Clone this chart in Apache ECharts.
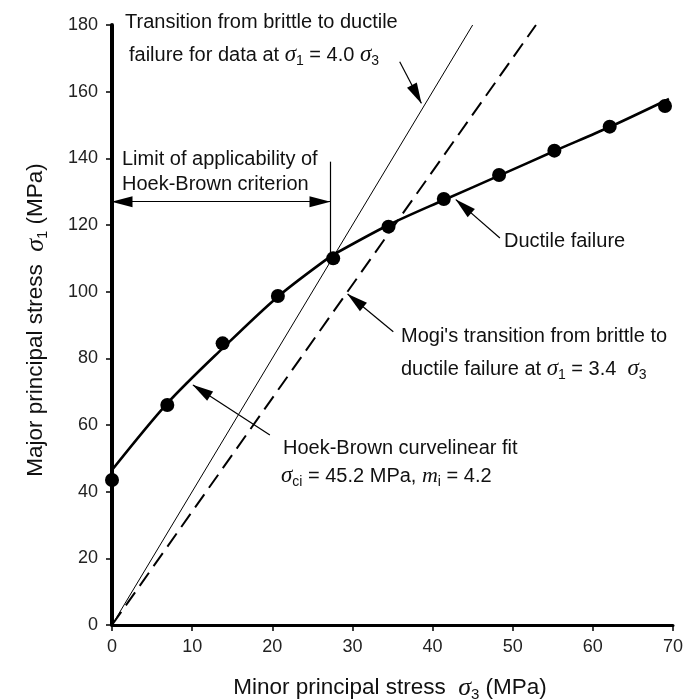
<!DOCTYPE html>
<html>
<head>
<meta charset="utf-8">
<script src="https://cdn.jsdelivr.net/npm/echarts@6/dist/echarts.min.js"></script>
<style>html,body{margin:0;padding:0;background:#fff}#c{width:688px;height:700px}</style>
</head>
<body>
<div id="c"></div>
<script>
// ---- data ----
const sigma3Data = [0, 6.9, 13.8, 20.7, 27.6, 34.5, 41.4, 48.3, 55.2, 62.1, 69.0];
const sigma1Data = [43.5, 66, 84.5, 98.7, 110, 119.5, 127.8, 135, 142.3, 149.5, 155.7];
const hoekBrownX = [0, 6.9, 13.8, 20.7, 27.4];
const hoekBrownY = [46.5, 66.5, 83, 98.5, 110.8];
const ductileX = [27.4, 34.5, 41.4, 48.3, 55.2, 62.1, 69.5];
const ductileY = [110.8, 120, 127.5, 134.8, 142.2, 149.4, 157.8];
const transition40X = [0, 45];
const transition40Y = [0, 180];
const mogi34X = [0, 52.9];
const mogi34Y = [0, 180];
const xTicks = [0, 10, 20, 30, 40, 50, 60, 70];
const yTicks = [0, 20, 40, 60, 80, 100, 120, 140, 160, 180];
// annotation arrows [from, to] in data units
const arrowTransition = [[35.9, 169], [38.6, 156.5]];
const arrowDuctile = [[48.4, 116.1], [42.9, 127.6]];
const arrowMogi = [[35.1, 88], [29.4, 99.3]];
const arrowHB = [[19.7, 57], [10.1, 72]];
const limitArrow = [[0, 127], [27.2, 127]];
const limitLine = [[27.2, 139], [27.2, 110.8]];

const zip = (a, b) => a.map((v, i) => [v, b[i]]);

const chart = echarts.init(document.getElementById('c'), null, {renderer: 'canvas'});

const R = {
  t: {fontSize: 20, fontFamily: 'Liberation Sans, Arial', color: '#111', lineHeight: 26, verticalAlign: 'middle'},
  s: {fontSize: 23, fontFamily: 'Liberation Serif, DejaVu Serif', fontStyle: 'italic', color: '#111', lineHeight: 26, verticalAlign: 'middle'},
  m: {fontSize: 22, fontFamily: 'Liberation Serif, DejaVu Serif', fontStyle: 'italic', color: '#111', lineHeight: 26, verticalAlign: 'middle'},
  sub: {fontSize: 14, fontFamily: 'Liberation Sans, Arial', color: '#111', lineHeight: 12, verticalAlign: 'bottom'},
  T: {fontSize: 22.5, fontFamily: 'Liberation Sans, Arial', color: '#111', lineHeight: 28, verticalAlign: 'middle'},
  S: {fontSize: 26, fontFamily: 'Liberation Serif, DejaVu Serif', fontStyle: 'italic', color: '#111', lineHeight: 28, verticalAlign: 'middle'},
  SUB: {fontSize: 15, fontFamily: 'Liberation Sans, Arial', color: '#111', lineHeight: 13, verticalAlign: 'bottom'}
};

function txt(x, y, text, extra) {
  return {
    type: 'text', x: x, y: y, silent: true,
    style: Object.assign({text: text, rich: R, fill: '#111', fontSize: 20, fontFamily: 'Liberation Sans, Arial', verticalAlign: 'middle', align: 'left'}, extra || {})
  };
}

function arrow(a) {
  return [{coord: a[0], symbol: 'none'}, {coord: a[1], symbol: 'triangle'}];
}

const option = {
  animation: false,
  backgroundColor: '#fff',
  grid: {left: 112, right: 15, top: 25, bottom: 75, containLabel: false},
  xAxis: {
    type: 'value', min: xTicks[0], max: xTicks[xTicks.length - 1], interval: 10,
    axisLine: {onZero: false, lineStyle: {color: '#000', width: 3}},
    axisTick: {show: true, inside: false, length: 6, lineStyle: {color: '#000', width: 1.5}},
    axisLabel: {fontSize: 18, color: '#222', fontFamily: 'Liberation Sans, Arial', margin: 13},
    splitLine: {show: false}
  },
  yAxis: {
    type: 'value', min: yTicks[0], max: yTicks[yTicks.length - 1], interval: 20,
    axisLine: {onZero: false, lineStyle: {color: '#000', width: 4}},
    axisTick: {show: true, inside: false, length: 6, lineStyle: {color: '#000', width: 1.5}},
    axisLabel: {fontSize: 18, color: '#222', fontFamily: 'Liberation Sans, Arial', margin: 14},
    splitLine: {show: false}
  },
  series: [
    {
      name: 'σ1 = 4.0 σ3', type: 'line', data: zip(transition40X, transition40Y), symbol: 'none',
      lineStyle: {color: '#000', width: 1}, z: 2,
      markLine: {
        silent: true, animation: false, symbolSize: [11, 21], symbolOffset: [[0, 10], [0, 10]],
        label: {show: false},
        lineStyle: {color: '#000', width: 1.2, type: 'solid'},
        emphasis: {disabled: true},
        data: [
          arrow(arrowTransition),
          arrow(arrowDuctile),
          arrow(arrowMogi),
          arrow(arrowHB),
          [{coord: limitArrow[0], symbol: 'triangle'}, {coord: limitArrow[1], symbol: 'triangle'}],
          [{coord: limitLine[0], symbol: 'none'}, {coord: limitLine[1], symbol: 'none'}]
        ]
      }
    },
    {
      name: 'Mogi σ1 = 3.4 σ3', type: 'line', data: zip(mogi34X, mogi34Y), symbol: 'none',
      lineStyle: {color: '#000', width: 2, type: [16, 8]}, z: 2
    },
    {
      name: 'Hoek-Brown fit', type: 'line', data: zip(hoekBrownX, hoekBrownY), symbol: 'none', smooth: 0.3,
      lineStyle: {color: '#000', width: 2.6}, z: 3
    },
    {
      name: 'Ductile failure', type: 'line', data: zip(ductileX, ductileY), symbol: 'none', smooth: 0.3,
      lineStyle: {color: '#000', width: 2.6}, z: 3
    },
    {
      name: 'Test data', type: 'scatter', data: zip(sigma3Data, sigma1Data), symbol: 'circle', symbolSize: 14,
      itemStyle: {color: '#000', opacity: 1}, z: 4
    }
  ],
  graphic: [
    txt(125, 22, '{t|Transition from brittle to ductile}'),
    txt(129, 55, '{t|failure for data at }{s|σ}{sub|1}{t| = 4.0 }{s|σ}{sub|3}'),
    txt(122, 159, '{t|Limit of applicability of}'),
    txt(122, 184, '{t|Hoek-Brown criterion}'),
    txt(504, 241, '{t|Ductile failure}'),
    txt(401, 336, "{t|Mogi's transition from brittle to}"),
    txt(401, 369, '{t|ductile failure at }{s|σ}{sub|1}{t| = 3.4  }{s|σ}{sub|3}'),
    txt(283, 448, '{t|Hoek-Brown curvelinear fit}'),
    txt(281, 476, '{s|σ}{sub|ci}{t| = 45.2 MPa, }{m|m}{sub|i}{t| = 4.2}'),
    txt(390, 688, '{T|Minor principal stress  }{S|σ}{SUB|3}{T| (MPa)}', {align: 'center'}),
    Object.assign(txt(36, 320, '{T|Major principal stress  }{S|σ}{SUB|1}{T| (MPa)}', {align: 'center'}), {rotation: Math.PI / 2})
  ]
};
chart.setOption(option);
</script>
</body>
</html>
